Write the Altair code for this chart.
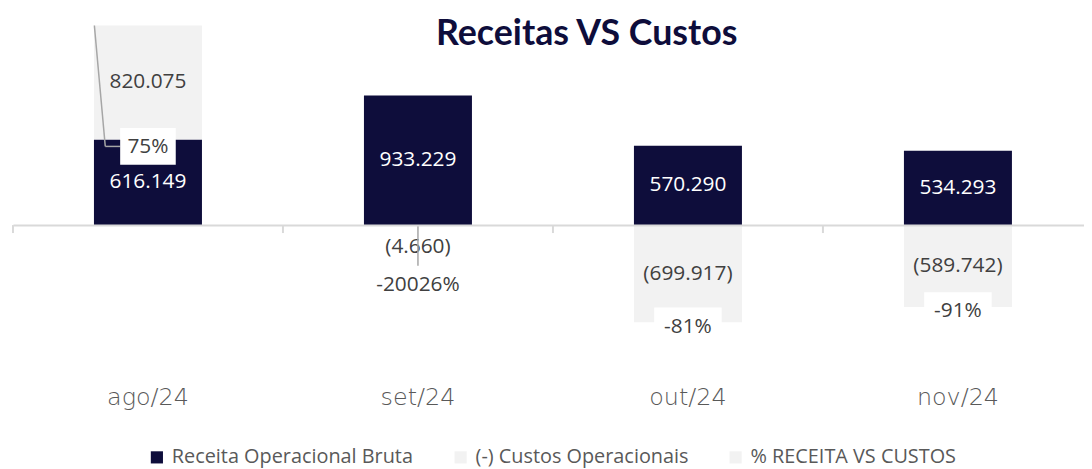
import altair as alt
import pandas as pd

# ---- data ----
titulo = "Receitas VS Custos"
meses = ["ago/24", "set/24", "out/24", "nov/24"]
receita = [616149, 933229, 570290, 534293]
custos = [820075, -4660, -699917, -589742]
pct_rotulos = ["75%", "-20026%", "-81%", "-91%"]

serie_receita = "Receita Operacional Bruta"
serie_custos = "(-) Custos Operacionais"
serie_pct = "% RECEITA VS CUSTOS"

NAVY = "#0E0D3B"
LIGHT = "#F2F2F2"
AXIS_GRAY = "#D9D9D9"
TEXT = "#404040"
LEADER = "#A6A6A6"
FONT = "Open Sans"

long_df = pd.DataFrame({
    "mes": meses * 2,
    "serie": [serie_receita] * len(meses) + [serie_custos] * len(meses),
    "valor": receita + custos,
    "ordem": [0] * len(meses) + [1] * len(meses),
})
wide_df = pd.DataFrame({"mes": meses, "receita": receita, "custos": custos, "pct": pct_rotulos})
title_df = pd.DataFrame({"t": [titulo]})

x_scale = alt.Scale(domain=meses, range=[0, 1088], paddingInner=0, paddingOuter=0)
y_scale = alt.Scale(domain=[-1000000, 1550000], nice=False, zero=False)

x_axis = alt.Axis(title=None, domain=False, ticks=False, labelAngle=0, labelFont="DejaVu Sans",
                  labelFontSize=24, labelFontWeight=200, labelColor="#595959", labelPadding=22)
y_axis = alt.Axis(title=None, values=[0], grid=True, gridColor=AXIS_GRAY, gridWidth=2,
                  domain=False, ticks=False, labels=False, zindex=1)


def X(**kw):
    return alt.X("mes:N", scale=x_scale, sort=meses, axis=x_axis, **kw)


# axis tick marks at category boundaries
ticks = alt.Chart(wide_df).mark_rule(color=AXIS_GRAY, strokeWidth=2, y2Offset=8).encode(
    x=X(bandPosition=0),
    y=alt.datum(0, scale=y_scale, axis=y_axis),
    y2=alt.datum(0),
)

bars = alt.Chart(long_df).mark_bar(width=alt.RelativeBandSize(0.4)).encode(
    x=X(),
    y=alt.Y("valor:Q", scale=y_scale, stack="zero", axis=y_axis),
    color=alt.Color(
        "serie:N",
        scale=alt.Scale(domain=[serie_receita, serie_custos, serie_pct], range=[NAVY, LIGHT, LIGHT]),
        legend=alt.Legend(title=None, orient="none", legendX=135, legendY=441, direction="horizontal",
                          symbolType="square", symbolSize=150, symbolStrokeWidth=0,
                          labelFont=FONT, labelFontSize=20, labelColor="#595959", labelLimit=0,
                          columnPadding=37, labelOffset=5),
    ),
    order=alt.Order("ordem:Q"),
)

bar_labels = alt.Chart(long_df).transform_stack(
    stack="valor", groupby=["mes"], as_=["v0", "v1"], sort=[alt.SortField("ordem")]
).transform_calculate(
    ypos="datum.valor < 0 ? min((datum.v0 + datum.v1) / 2, -160000) : (datum.v0 + datum.v1) / 2",
    rotulo="(datum.valor < 0 ? '(' : '') + replace(format(abs(datum.valor), ','), regexp(',', 'g'), '.') + (datum.valor < 0 ? ')' : '')",
).mark_text(font=FONT, fontSize=21).encode(
    x=X(),
    y=alt.Y("ypos:Q", scale=y_scale, axis=y_axis, stack=None),
    text="rotulo:N",
    color=alt.condition(f"datum.serie == '{serie_receita}'", alt.value("white"), alt.value(TEXT)),
)

pct_base = alt.Chart(wide_df).transform_calculate(
    pos="datum.custos < 0 ? min(datum.custos, -400000) - 25000 : datum.receita - 50000",
    boxw="12 * length(datum.pct) + 20",
    topo="datum.receita + datum.custos",
)

lead_diag = pct_base.transform_filter("datum.custos > 0").mark_rule(
    color=LEADER, strokeWidth=1.5, xOffset=-54, x2Offset=-43
).encode(x=X(), x2=alt.X2("mes:N"), y=alt.Y("topo:Q", scale=y_scale, axis=y_axis), y2=alt.Y2("pos:Q"))

lead_horiz = pct_base.transform_filter("datum.custos > 0").mark_rule(
    color=LEADER, strokeWidth=1.5, xOffset=-43, x2Offset=-28
).encode(x=X(), x2=alt.X2("mes:N"), y=alt.Y("pos:Q", scale=y_scale, axis=y_axis))

lead_vert = pct_base.transform_filter("datum.custos < 0 && datum.custos > -100000").mark_rule(
    color=LEADER, strokeWidth=1.5, y2Offset=-18
).encode(x=X(), y=alt.Y("custos:Q", scale=y_scale, axis=y_axis), y2=alt.Y2("pos:Q"))

boxes = pct_base.mark_tick(thickness=37, color="white", opacity=1, filled=True).encode(
    x=X(),
    y=alt.Y("pos:Q", scale=y_scale, axis=y_axis),
    size=alt.Size("boxw:Q", scale=None, legend=None),
)

pct_text = pct_base.mark_text(font=FONT, fontSize=21, color=TEXT, dy=1).encode(
    x=X(),
    y=alt.Y("pos:Q", scale=y_scale, axis=y_axis),
    text="pct:N",
)

title_mark = alt.Chart(title_df).mark_text(
    font="Lato", fontSize=36, fontWeight="bold", color=NAVY, align="center", baseline="alphabetic"
).encode(text="t:N", x=alt.value(578), y=alt.value(36))

chart = alt.layer(ticks, bars, bar_labels, lead_diag, lead_horiz, lead_vert, boxes, pct_text,
                  title_mark).properties(
    width=1079,
    height=357,
    padding={"left": 5, "top": 0, "right": 0, "bottom": 104},
    autosize=alt.AutoSizeParams(type="none"),
).configure_view(stroke=None)

chart.save("out.html", embed_options={"renderer": "svg", "actions": False})
